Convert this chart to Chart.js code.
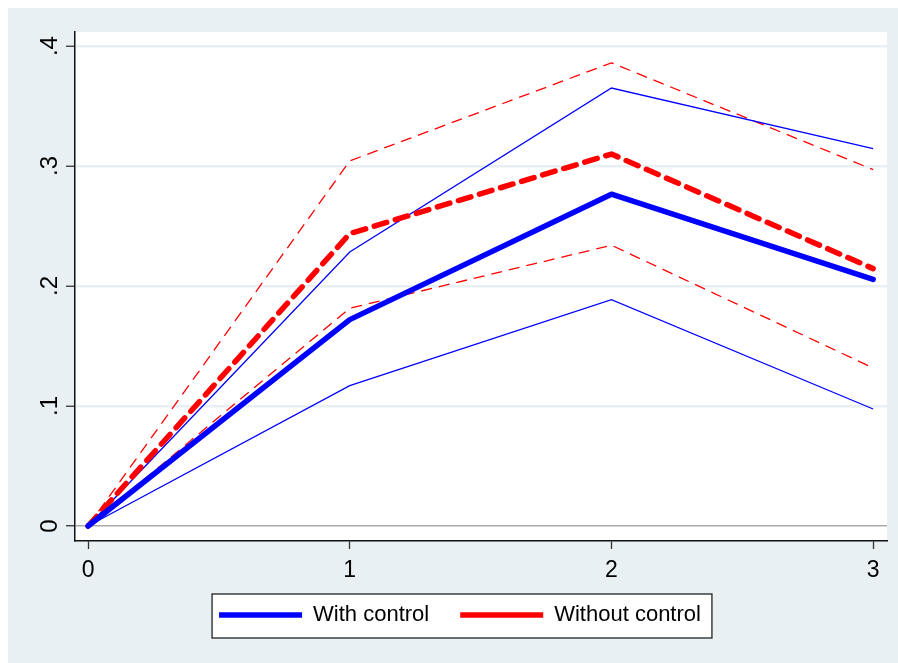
<!DOCTYPE html>
<html>
<head>
<meta charset="utf-8">
<script src="https://cdn.jsdelivr.net/npm/chart.js@4"></script>
<style>
  html, body { margin: 0; padding: 0; background: #fff; }
  #wrap { width: 898px; height: 663px; position: relative; }
</style>
</head>
<body>
<div id="wrap"><canvas id="chart"></canvas></div>
<script>
// data
const xValues = [0, 1, 2, 3];
const withControl = [0, 0.172, 0.2765, 0.2055];
const withControlHi = [0, 0.2283, 0.365, 0.3145];
const withControlLo = [0, 0.117, 0.1886, 0.0975];
const withoutControl = [0, 0.2437, 0.310, 0.2145];
const withoutControlHi = [0, 0.3043, 0.386, 0.297];
const withoutControlLo = [0, 0.1815, 0.234, 0.1317];
const xTicks = [0, 1, 2, 3];
const yTicks = [0, 0.1, 0.2, 0.3, 0.4];
const yTickLabels = ['0', '.1', '.2', '.3', '.4'];
const seriesNames = ['With control', 'Without control'];

const BG = '#e8f0f3';
const FONT = "'Liberation Sans', Arial, sans-serif";
const X_AXIS_H = 42;
const LEGEND_LIFT = 10; // pull the legend up closer to the axis labels

function toPoints(ys) {
    return xValues.map((x, i) => ({ x: x, y: ys[i] }));
}

// background panels + white legend box, drawn before everything else
const backdrop = {
    id: 'backdrop',
    afterUpdate(chart) {
        const lg = chart.legend;
        if (!lg) return;
        lg.top -= LEGEND_LIFT;
        lg.bottom -= LEGEND_LIFT;
        (lg.legendHitBoxes || []).forEach(h => { h.top -= LEGEND_LIFT; });
    },
    beforeDraw(chart) {
        const ctx = chart.ctx;
        const a = chart.chartArea;
        ctx.save();
        ctx.fillStyle = '#fff';
        ctx.fillRect(0, 0, chart.width, chart.height);
        ctx.fillStyle = BG;
        ctx.fillRect(8, 8, chart.width - 8, chart.height - 8);
        ctx.fillStyle = '#fff';
        ctx.fillRect(a.left, a.top, a.right - a.left, a.bottom - a.top);

        const lg = chart.legend;
        if (lg && lg.legendHitBoxes && lg.legendHitBoxes.length) {
            const hb = lg.legendHitBoxes;
            const first = hb[0], last = hb[hb.length - 1];
            const l = first.left - 7;
            const r = last.left + last.width + 11;
            const cy = first.top + first.height / 2;
            ctx.fillStyle = '#fff';
            ctx.fillRect(l, cy - 21, r - l, 44);
            ctx.strokeStyle = '#222';
            ctx.lineWidth = 1.3;
            ctx.strokeRect(l, cy - 21, r - l, 44);
        }
        ctx.restore();
    }
};

const ctx = document.getElementById('chart').getContext('2d');
new Chart(ctx, {
    type: 'line',
    data: {
        datasets: [
            {
                label: seriesNames[0],
                data: toPoints(withControl),
                borderColor: '#0000ff',
                borderWidth: 5.5,
                borderCapStyle: 'round',
                borderJoinStyle: 'round',
                pointRadius: 0
            },
            {
                label: seriesNames[1],
                data: toPoints(withoutControl),
                borderColor: '#ff0000',
                borderWidth: 5.5,
                borderDash: [13, 9],
                borderCapStyle: 'round',
                borderJoinStyle: 'round',
                pointRadius: 0
            },
            {
                label: 'hi1',
                data: toPoints(withControlHi),
                borderColor: '#0000ff',
                borderWidth: 1.3,
                pointRadius: 0
            },
            {
                label: 'lo1',
                data: toPoints(withControlLo),
                borderColor: '#0000ff',
                borderWidth: 1.3,
                pointRadius: 0
            },
            {
                label: 'hi2',
                data: toPoints(withoutControlHi),
                borderColor: '#ff0000',
                borderWidth: 1.3,
                borderDash: [11, 7],
                pointRadius: 0
            },
            {
                label: 'lo2',
                data: toPoints(withoutControlLo),
                borderColor: '#ff0000',
                borderWidth: 1.3,
                borderDash: [11, 7],
                pointRadius: 0
            }
        ]
    },
    options: {
        responsive: true,
        maintainAspectRatio: false,
        animation: false,
        devicePixelRatio: 1,
        layout: { padding: { left: 33, right: 11, top: 32, bottom: 27 - LEGEND_LIFT } },
        scales: {
            x: {
                type: 'linear',
                min: -0.05,
                max: 3.053,
                afterBuildTicks: axis => { axis.ticks = xTicks.map(v => ({ value: v })); },
                afterFit: axis => { axis.height = X_AXIS_H; },
                border: { color: '#111', width: 1.5 },
                grid: { drawOnChartArea: false, tickLength: 8, tickColor: '#333', tickWidth: 1.3 },
                ticks: {
                    color: '#000',
                    font: { family: FONT, size: 23 },
                    padding: 8,
                    maxRotation: 0,
                    callback: v => String(v)
                }
            },
            y: {
                min: -0.0125,
                max: 0.4117,
                afterBuildTicks: axis => { axis.ticks = yTicks.map(v => ({ value: v })); },
                afterFit: axis => { axis.width = 42; },
                border: { color: '#111', width: 1.5 },
                grid: {
                    color: c => (c.tick && c.tick.value === 0) ? '#a9a9a9' : BG,
                    lineWidth: c => (c.tick && c.tick.value === 0) ? 1.5 : 2.5,
                    tickLength: 9,
                    tickColor: '#333',
                    tickWidth: 1.3
                },
                ticks: {
                    color: '#000',
                    font: { family: FONT, size: 24 },
                    padding: 6,
                    minRotation: 90,
                    maxRotation: 90,
                    crossAlign: 'center',
                    callback: v => {
                        const i = yTicks.indexOf(v);
                        return i >= 0 ? yTickLabels[i] : '';
                    }
                }
            }
        },
        plugins: {
            tooltip: { enabled: false },
            legend: {
                position: 'bottom',
                labels: {
                    filter: item => item.datasetIndex < 2,
                    usePointStyle: true,
                    pointStyle: 'line',
                    pointStyleWidth: 83,
                    boxWidth: 83,
                    padding: 31,
                    color: '#000',
                    font: { family: FONT, size: 22 }
                }
            }
        }
    },
    plugins: [backdrop]
});
</script>
</body>
</html>
